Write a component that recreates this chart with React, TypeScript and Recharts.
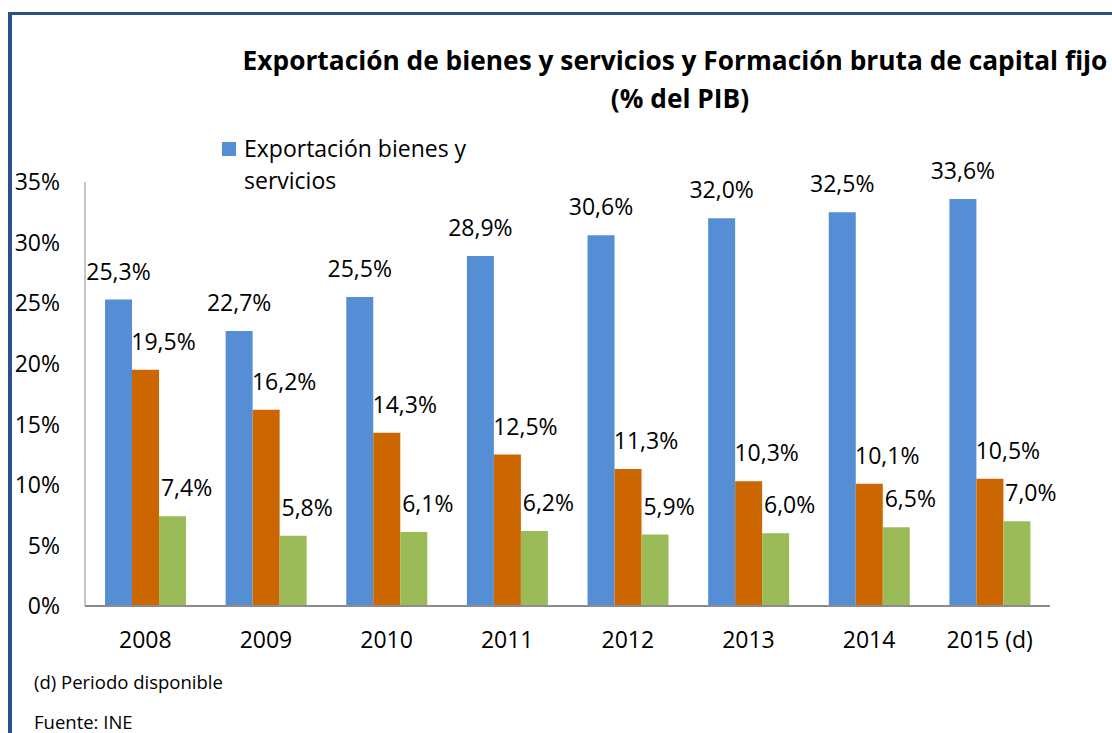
import React from 'react';
import { BarChart, Bar, XAxis, YAxis, LabelList } from 'recharts';

const categories = ['2008', '2009', '2010', '2011', '2012', '2013', '2014', '2015 (d)'];
const exportaciones = [25.3, 22.7, 25.5, 28.9, 30.6, 32.0, 32.5, 33.6];
const fbcf = [19.5, 16.2, 14.3, 12.5, 11.3, 10.3, 10.1, 10.5];
const fbcfConstruccion = [7.4, 5.8, 6.1, 6.2, 5.9, 6.0, 6.5, 7.0];
const yTicks = [0, 5, 10, 15, 20, 25, 30, 35];

const data = categories.map((name, i) => ({
  name,
  exp: exportaciones[i],
  fbcf: fbcf[i],
  cons: fbcfConstruccion[i],
}));

const FONT = '"Open Sans", sans-serif';
const fmt = (v: number) => `${v.toFixed(1).replace('.', ',')}%`;

// Excel-style labels: sit above each bar, the 2nd and 3rd series nudged right
const makeLabel = (dx: number) => (props: any) => {
  const { x, y, width, value } = props;
  return (
    <text
      x={x + width / 2 + dx}
      y={y - 20}
      textAnchor="middle"
      fontFamily={FONT}
      fontSize={23}
      fill="#000"
    >
      {fmt(value)}
    </text>
  );
};

const YTick = (props: any) => (
  <text x={60} y={props.y} dy="0.36em" textAnchor="end" fontFamily={FONT} fontSize={23} fill="#000">
    {props.payload.value}%
  </text>
);

const XTick = (props: any) => (
  <text x={props.x} y={props.y} dy={34} textAnchor="middle" fontFamily={FONT} fontSize={23} fill="#000">
    {props.payload.value}
  </text>
);

const titleStyle: React.CSSProperties = {
  position: 'absolute',
  left: 0,
  textAlign: 'center',
  fontFamily: FONT,
  fontWeight: 700,
  fontSize: 26.3,
  lineHeight: '38px',
  color: '#000',
  whiteSpace: 'nowrap',
};

export default function App() {
  return (
    <div style={{ position: 'absolute', left: 0, top: 0, width: 1112, height: 733, overflow: 'hidden', background: '#fff' }}>
      <div
        style={{
          position: 'absolute',
          left: 8,
          top: 12,
          width: 1200,
          height: 800,
          borderLeft: '4px solid #2A5088',
          borderTop: '3px solid #2A5088',
        }}
      />
      <div style={{ ...titleStyle, top: 41, width: 1350 }}>
        Exportación de bienes y servicios y Formación bruta de capital fijo
      </div>
      <div style={{ ...titleStyle, top: 79, width: 1360 }}>(% del PIB)</div>
      {/* legend: only the first entry shows in the original frame */}
      <div
        style={{
          position: 'absolute',
          left: 222,
          top: 132,
          width: 300,
          fontFamily: FONT,
          fontSize: 23,
          lineHeight: '32px',
          color: '#000',
          display: 'flex',
        }}
      >
        <span style={{ width: 14, height: 14, background: '#558ED5', marginTop: 10, marginRight: 8, flex: 'none' }} />
        <span style={{ width: 240 }}>Exportación bienes y servicios</span>
      </div>
      <div style={{ position: 'absolute', left: 0, top: 0 }}>
        <BarChart
          width={1112}
          height={733}
          data={data}
          margin={{ top: 182, right: 62, bottom: 126, left: 0 }}
          barCategoryGap="16.6%"
          barGap={0}
        >
          <XAxis
            dataKey="name"
            tick={<XTick />}
            tickLine={false}
            axisLine={{ stroke: '#8c8c8c', strokeWidth: 2 }}
            interval={0}
            height={1}
          />
          <YAxis
            width={85}
            domain={[0, 35]}
            ticks={yTicks}
            tick={<YTick />}
            tickLine={false}
            axisLine={{ stroke: '#8c8c8c', strokeWidth: 1 }}
          />
          <Bar dataKey="exp" name="Exportación bienes y servicios" fill="#558ED5" isAnimationActive={false}>
            <LabelList dataKey="exp" content={makeLabel(0)} />
          </Bar>
          <Bar dataKey="fbcf" name="Formación bruta de capital fijo" fill="#CC6600" isAnimationActive={false}>
            <LabelList dataKey="fbcf" content={makeLabel(18)} />
          </Bar>
          <Bar dataKey="cons" name="FBCF construcción" fill="#9BBB59" isAnimationActive={false}>
            <LabelList dataKey="cons" content={makeLabel(14)} />
          </Bar>
        </BarChart>
      </div>
      <div style={{ position: 'absolute', left: 34, top: 669, fontFamily: FONT, fontSize: 18.5, color: '#000' }}>
        (d) Periodo disponible
      </div>
      <div style={{ position: 'absolute', left: 34, top: 709, fontFamily: FONT, fontSize: 18.5, color: '#000' }}>
        Fuente: INE
      </div>
    </div>
  );
}
